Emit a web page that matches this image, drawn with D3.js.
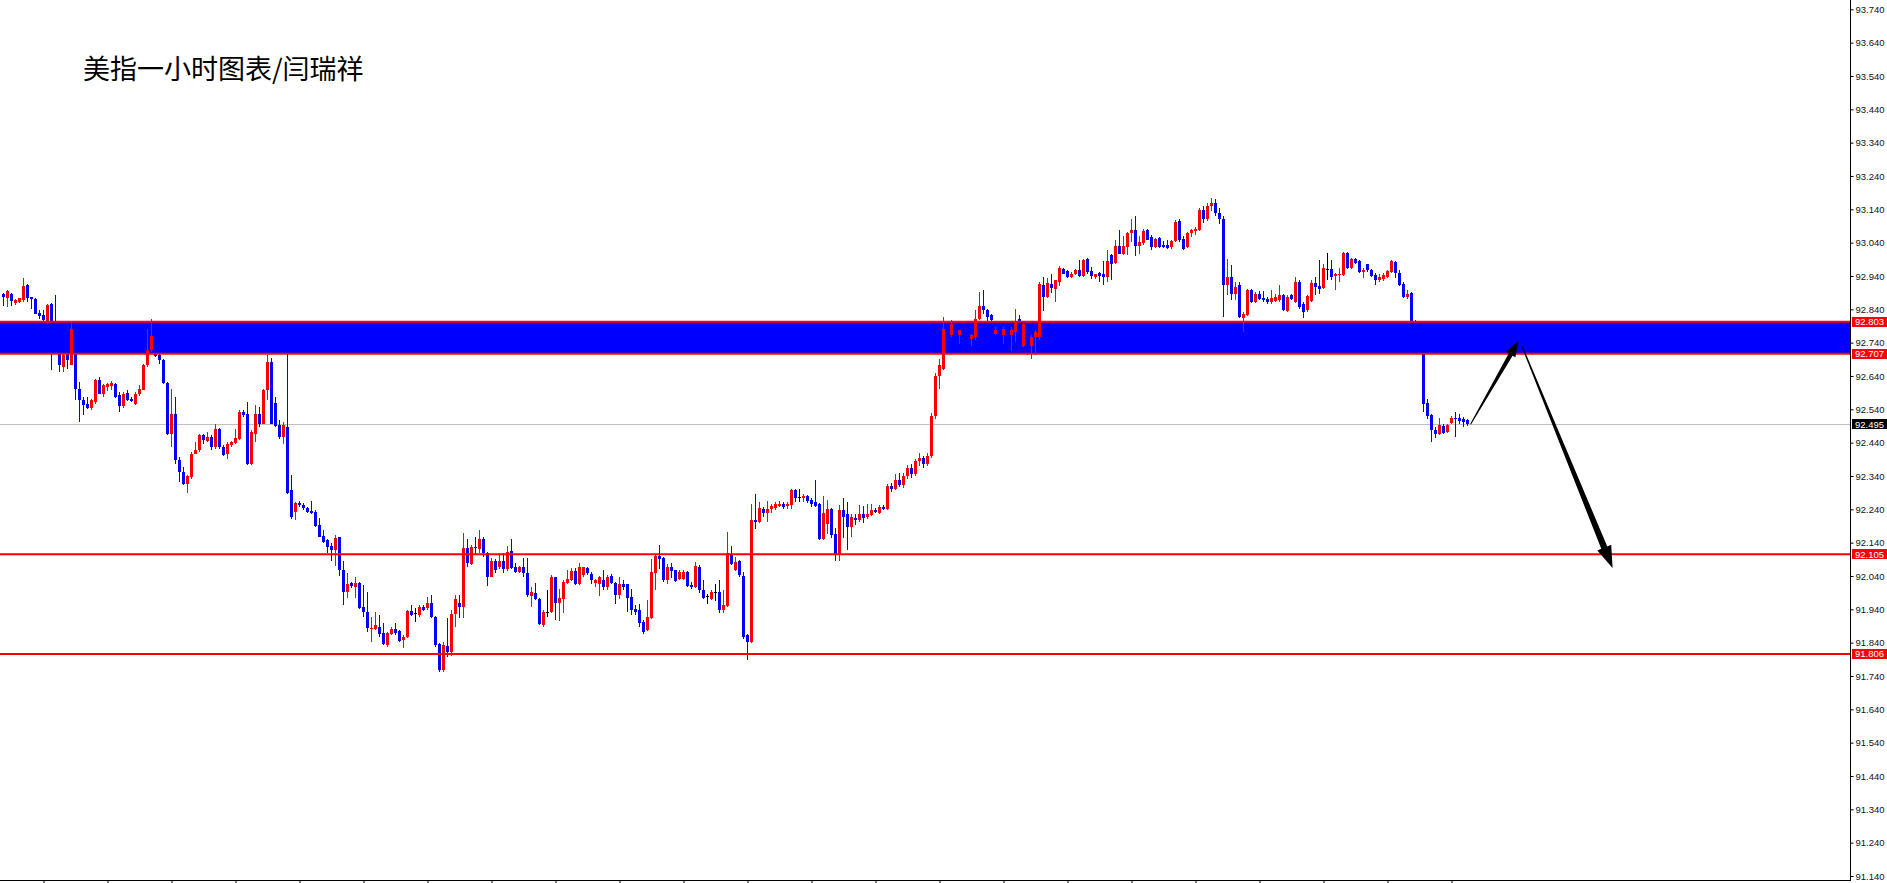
<!DOCTYPE html>
<html><head><meta charset="utf-8">
<script src="https://cdn.jsdelivr.net/npm/d3@7"></script>
<style>
html,body{margin:0;padding:0;background:#fff;overflow:hidden}
svg{display:block}
</style></head><body>
<svg id="chart" width="1887" height="883"></svg>
<script>
const title = "美指一小时图表/闫瑞祥";

const openP = [
92.887,92.875,92.887,92.859,92.863,92.869,92.912,92.877,92.872,92.829,
92.824,92.802,92.857,92.787,92.707,92.667,92.707,92.672,92.757,92.602,
92.567,92.557,92.545,92.562,92.627,92.587,92.607,92.611,92.617,92.582,
92.549,92.589,92.572,92.557,92.585,92.599,92.672,92.717,92.705,92.704,
92.687,92.619,92.467,92.527,92.389,92.352,92.317,92.337,92.407,92.417,
92.462,92.445,92.457,92.427,92.482,92.427,92.407,92.432,92.439,92.452,
92.532,92.527,92.377,92.467,92.527,92.497,92.597,92.682,92.560,92.492,
92.457,92.487,92.297,92.233,92.260,92.253,92.245,92.236,92.233,92.193,
92.160,92.148,92.130,92.118,92.156,92.058,91.993,92.018,92.008,92.020,
91.948,91.933,91.881,91.880,91.888,91.868,91.833,91.866,91.880,91.876,
91.848,91.856,91.936,91.928,91.923,91.948,91.943,91.958,91.918,91.836,
91.758,91.830,91.813,91.926,91.960,91.946,92.123,92.076,92.128,92.120,
92.150,92.110,92.038,92.086,92.068,92.086,92.060,92.116,92.066,92.053,
92.068,92.048,91.980,91.988,91.970,91.893,91.933,91.933,92.036,91.958,
91.970,92.018,92.028,92.056,92.016,92.043,92.063,92.045,92.019,92.017,
92.027,92.007,92.039,92.019,91.982,92.017,92.015,91.977,91.942,91.939,
91.902,91.877,91.915,92.049,92.099,92.094,92.027,92.067,92.057,92.032,
92.032,92.052,92.014,92.007,92.067,91.997,91.979,91.972,91.992,91.992,
91.939,91.949,92.107,92.057,92.085,92.039,91.862,91.842,92.209,92.202,
92.242,92.229,92.242,92.245,92.249,92.257,92.249,92.252,92.299,92.277,
92.275,92.279,92.269,92.262,92.257,92.152,92.197,92.242,92.165,92.102,
92.239,92.225,92.187,92.215,92.207,92.225,92.217,92.222,92.239,92.229,
92.247,92.242,92.309,92.302,92.327,92.312,92.340,92.365,92.345,92.385,
92.395,92.375,92.400,92.520,92.640,92.662,92.782,92.762,92.795,92.762,
92.777,92.755,92.752,92.757,92.812,92.849,92.839,92.822,92.767,92.790,
92.762,92.782,92.762,92.772,92.812,92.729,92.760,92.729,92.757,92.757,
92.912,92.877,92.915,92.902,92.922,92.962,92.955,92.937,92.945,92.957,
92.939,92.992,92.955,92.937,92.949,92.947,92.937,93.002,92.979,93.029,
93.005,93.027,93.069,93.077,93.029,93.039,93.079,93.057,93.027,93.055,
93.032,93.032,93.027,93.045,93.105,93.052,93.027,93.069,93.075,93.077,
93.137,93.112,93.150,93.160,93.130,93.110,92.912,92.937,92.885,92.912,
92.815,92.822,92.899,92.862,92.887,92.874,92.872,92.862,92.865,92.867,
92.882,92.835,92.882,92.862,92.922,92.857,92.837,92.865,92.919,92.909,
92.905,92.962,92.962,92.939,92.942,92.942,93.009,92.965,92.992,92.985,
92.952,92.975,92.959,92.942,92.927,92.932,92.937,92.952,92.982,92.949,
92.915,92.877,92.889,92.805,92.797,92.707,92.559,92.522,92.479,92.465,
92.489,92.472,92.499,92.515,92.515,92.512,92.507];

const highP = [
92.889,92.897,92.889,92.871,92.875,92.935,92.915,92.877,92.875,92.839,
92.837,92.857,92.860,92.882,92.727,92.707,92.712,92.805,92.767,92.622,
92.577,92.577,92.572,92.632,92.637,92.617,92.619,92.624,92.619,92.592,
92.592,92.597,92.577,92.592,92.612,92.677,92.782,92.812,92.707,92.707,
92.692,92.622,92.602,92.577,92.397,92.367,92.342,92.412,92.442,92.467,
92.467,92.472,92.462,92.495,92.485,92.432,92.442,92.445,92.482,92.539,
92.537,92.562,92.477,92.552,92.547,92.602,92.702,92.695,92.577,92.507,
92.502,92.707,92.342,92.263,92.266,92.258,92.248,92.265,92.238,92.213,
92.178,92.150,92.140,92.163,92.158,92.086,92.050,92.023,92.038,92.023,
92.013,91.993,91.918,91.933,91.923,91.898,91.873,91.888,91.898,91.878,
91.863,91.938,91.953,91.943,91.953,91.953,91.978,91.983,91.920,91.840,
91.843,91.913,91.938,91.983,91.983,92.168,92.150,92.133,92.156,92.178,
92.158,92.113,92.093,92.090,92.110,92.110,92.130,92.150,92.078,92.070,
92.093,92.093,92.008,92.020,91.973,91.938,91.998,92.043,92.038,92.000,
92.028,92.058,92.063,92.063,92.080,92.068,92.066,92.052,92.032,92.039,
92.059,92.042,92.047,92.022,92.037,92.027,92.017,92.002,91.952,91.957,
91.907,91.967,92.092,92.107,92.132,92.097,92.075,92.079,92.059,92.059,
92.057,92.055,92.022,92.082,92.072,92.027,91.987,91.999,92.017,92.027,
91.997,92.172,92.129,92.097,92.089,92.052,91.867,92.257,92.285,92.262,
92.247,92.265,92.257,92.262,92.265,92.262,92.262,92.302,92.302,92.302,
92.285,92.282,92.275,92.327,92.259,92.279,92.269,92.245,92.185,92.252,
92.275,92.262,92.225,92.225,92.252,92.249,92.257,92.257,92.245,92.252,
92.252,92.315,92.319,92.347,92.349,92.350,92.372,92.375,92.392,92.410,
92.400,92.410,92.530,92.650,92.690,92.817,92.800,92.809,92.800,92.779,
92.782,92.762,92.767,92.837,92.892,92.897,92.842,92.827,92.787,92.800,
92.787,92.790,92.787,92.842,92.822,92.800,92.770,92.762,92.777,92.922,
92.937,92.935,92.945,92.929,92.969,92.965,92.957,92.952,92.962,92.987,
92.992,92.995,92.967,92.947,92.952,92.985,93.017,93.005,93.047,93.079,
93.059,93.072,93.112,93.119,93.059,93.082,93.082,93.062,93.055,93.057,
93.045,93.047,93.047,93.107,93.112,93.059,93.072,93.082,93.087,93.145,
93.150,93.160,93.175,93.170,93.145,93.120,92.992,92.972,92.922,92.922,
92.832,92.902,92.902,92.892,92.895,92.895,92.877,92.897,92.887,92.912,
92.885,92.882,92.887,92.937,92.927,92.862,92.882,92.927,92.937,92.989,
92.977,93.009,92.989,92.949,92.965,93.012,93.012,92.995,92.995,92.987,
92.965,92.977,92.962,92.949,92.947,92.949,92.959,92.987,92.985,92.959,
92.922,92.899,92.892,92.807,92.800,92.712,92.572,92.527,92.487,92.515,
92.497,92.497,92.519,92.532,92.527,92.517,92.512];

const lowP = [
92.849,92.847,92.849,92.853,92.860,92.862,92.862,92.842,92.825,92.812,
92.797,92.797,92.657,92.717,92.652,92.652,92.662,92.672,92.567,92.502,
92.522,92.542,92.537,92.557,92.585,92.577,92.595,92.599,92.575,92.532,
92.545,92.565,92.562,92.552,92.579,92.597,92.667,92.712,92.697,92.677,
92.615,92.462,92.427,92.377,92.322,92.312,92.289,92.332,92.405,92.412,
92.437,92.442,92.417,92.422,92.422,92.399,92.392,92.427,92.437,92.447,
92.517,92.372,92.372,92.442,92.487,92.495,92.567,92.495,92.487,92.452,
92.437,92.287,92.210,92.208,92.248,92.238,92.228,92.226,92.188,92.156,
92.138,92.108,92.086,92.070,92.040,91.953,91.973,92.003,91.973,91.940,
91.918,91.873,91.843,91.878,91.858,91.833,91.828,91.863,91.863,91.843,
91.823,91.853,91.920,91.903,91.918,91.936,91.938,91.913,91.828,91.753,
91.753,91.798,91.800,91.888,91.913,91.913,92.068,92.073,92.106,92.108,
92.096,92.010,92.036,92.048,92.060,92.048,92.056,92.060,92.048,92.050,
92.038,91.978,91.946,91.968,91.893,91.886,91.918,91.930,91.908,91.906,
91.928,92.016,92.026,92.013,92.013,92.038,92.043,92.017,92.007,91.979,
91.997,91.997,92.015,91.957,91.972,91.997,91.932,91.922,91.922,91.887,
91.867,91.875,91.912,91.997,92.062,92.022,92.017,92.035,92.022,92.027,
92.029,92.007,92.002,92.004,91.989,91.972,91.957,91.967,91.965,91.929,
91.929,91.947,92.072,92.055,92.037,91.852,91.789,91.839,92.182,92.199,
92.217,92.202,92.229,92.239,92.247,92.242,92.242,92.242,92.262,92.262,
92.262,92.259,92.247,92.247,92.149,92.149,92.167,92.155,92.085,92.085,
92.155,92.119,92.157,92.192,92.202,92.199,92.212,92.219,92.229,92.227,
92.237,92.237,92.292,92.299,92.307,92.305,92.330,92.335,92.340,92.370,
92.365,92.370,92.395,92.510,92.600,92.657,92.752,92.757,92.765,92.737,
92.745,92.735,92.729,92.747,92.809,92.827,92.799,92.799,92.762,92.765,
92.737,92.750,92.715,92.742,92.790,92.727,92.702,92.692,92.702,92.747,
92.835,92.875,92.889,92.862,92.909,92.945,92.935,92.935,92.942,92.937,
92.937,92.947,92.932,92.932,92.922,92.912,92.922,92.927,92.977,93.005,
93.002,93.002,93.042,92.999,93.005,93.032,93.047,93.019,93.025,93.025,
93.025,93.022,93.022,93.042,93.042,93.019,93.025,93.057,93.062,93.075,
93.100,93.105,93.135,93.120,93.095,92.817,92.882,92.869,92.869,92.815,
92.772,92.819,92.859,92.859,92.867,92.862,92.855,92.855,92.862,92.862,
92.835,92.832,92.867,92.859,92.842,92.815,92.832,92.862,92.882,92.885,
92.902,92.927,92.927,92.897,92.922,92.939,92.962,92.962,92.977,92.949,
92.935,92.952,92.937,92.912,92.922,92.925,92.935,92.949,92.935,92.909,
92.875,92.872,92.797,92.790,92.705,92.532,92.512,92.442,92.455,92.462,
92.467,92.469,92.497,92.457,92.497,92.487,92.489];

const closeP = [
92.877,92.895,92.865,92.867,92.873,92.909,92.875,92.872,92.827,92.819,
92.807,92.854,92.757,92.727,92.672,92.702,92.687,92.782,92.602,92.567,
92.552,92.545,92.567,92.627,92.587,92.612,92.615,92.619,92.577,92.549,
92.587,92.567,92.565,92.585,92.602,92.672,92.717,92.759,92.699,92.687,
92.619,92.467,92.527,92.387,92.352,92.317,92.339,92.407,92.417,92.462,
92.447,92.457,92.427,92.482,92.427,92.402,92.437,92.442,92.454,92.532,
92.522,92.377,92.472,92.527,92.497,92.597,92.682,92.497,92.490,92.457,
92.492,92.290,92.218,92.258,92.253,92.243,92.233,92.230,92.190,92.158,
92.143,92.128,92.118,92.153,92.058,91.993,92.016,92.010,92.018,91.943,
91.933,91.883,91.885,91.893,91.866,91.835,91.870,91.880,91.868,91.846,
91.858,91.936,91.923,91.928,91.948,91.938,91.960,91.916,91.833,91.758,
91.833,91.813,91.926,91.970,91.946,92.123,92.078,92.128,92.123,92.150,
92.108,92.036,92.086,92.058,92.086,92.060,92.113,92.063,92.053,92.068,
92.048,91.983,91.993,91.970,91.896,91.933,91.933,92.036,91.958,91.973,
92.023,92.030,92.056,92.016,92.066,92.066,92.048,92.027,92.027,92.037,
92.007,92.037,92.019,91.982,92.017,92.007,91.975,91.937,91.932,91.899,
91.872,91.917,92.052,92.099,92.092,92.027,92.067,92.055,92.025,92.052,
92.052,92.009,92.007,92.069,91.997,91.975,91.979,91.992,91.992,91.937,
91.952,92.109,92.077,92.082,92.042,91.857,91.842,92.209,92.202,92.245,
92.229,92.242,92.249,92.255,92.257,92.247,92.257,92.299,92.275,92.277,
92.279,92.265,92.255,92.249,92.152,92.229,92.242,92.162,92.102,92.239,
92.217,92.187,92.217,92.207,92.225,92.215,92.225,92.239,92.232,92.247,
92.242,92.309,92.302,92.329,92.312,92.340,92.365,92.345,92.385,92.395,
92.375,92.400,92.520,92.640,92.672,92.782,92.760,92.795,92.770,92.777,
92.755,92.745,92.762,92.812,92.849,92.839,92.817,92.807,92.779,92.770,
92.782,92.760,92.777,92.802,92.797,92.795,92.720,92.757,92.772,92.917,
92.877,92.919,92.905,92.927,92.965,92.947,92.937,92.947,92.959,92.939,
92.989,92.952,92.939,92.945,92.939,92.937,92.985,92.977,93.029,93.005,
93.029,93.069,93.077,93.029,93.042,93.075,93.049,93.027,93.052,93.027,
93.027,93.025,93.045,93.102,93.047,93.022,93.069,93.077,93.082,93.137,
93.112,93.150,93.160,93.130,93.110,92.912,92.937,92.887,92.907,92.817,
92.825,92.899,92.862,92.887,92.872,92.867,92.862,92.874,92.877,92.882,
92.837,92.877,92.872,92.922,92.847,92.832,92.879,92.919,92.907,92.902,
92.965,92.962,92.937,92.945,92.947,93.009,92.965,92.992,92.979,92.952,
92.959,92.957,92.939,92.927,92.937,92.942,92.955,92.985,92.949,92.912,
92.877,92.887,92.805,92.797,92.710,92.555,92.519,92.477,92.465,92.492,
92.469,92.492,92.515,92.512,92.505,92.502,92.495];

const priceTicks = [93.74,93.64,93.54,93.44,93.34,93.24,93.14,93.04,92.94,92.84,92.74,92.64,92.54,
  92.44,92.34,92.24,92.14,92.04,91.94,91.84,91.74,91.64,91.54,91.44,91.34,91.24,91.14];
const timeTickBars = [10,26,42,58,74,90,106,122,138,154,170,186,202,218,234,250,266,282,298,314,330,346,362];
const zoneLevels = [92.707, 92.803];
const lineLevels = [92.105, 91.806];
const bidPrice = 92.495;
// arrow annotations: [bar, price] start -> end
const arrowFrom = [[366.9, 92.495], [379.8, 92.728]];
const arrowTo   = [[378.9, 92.746], [402.4, 92.064]];

const W = 1887, H = 883;
const plotRight = 1850, plotBottom = 880;
const svg = d3.select("#chart");
svg.append("rect").attr("width", W).attr("height", H).attr("fill", "#fff");

const n = Math.min(openP.length, highP.length, lowP.length, closeP.length);
const x = d3.scaleLinear().domain([0, 366]).range([3, 1467]);
const y = d3.scaleLinear().domain([91.14, 93.74]).range([876, 9.3]);

const RED = "#ff0000", BLUE = "#0000ff";

// zone
svg.append("rect")
  .attr("x", 0).attr("width", plotRight)
  .attr("y", y(zoneLevels[1])).attr("height", y(zoneLevels[0]) - y(zoneLevels[1]))
  .attr("fill", BLUE);

// bid line
svg.append("line").attr("x1", 0).attr("x2", plotRight)
  .attr("y1", Math.round(y(bidPrice)) + 0.5).attr("y2", Math.round(y(bidPrice)) + 0.5)
  .attr("stroke", "#c0c0c0").attr("stroke-width", 1);

// candles
const candles = d3.range(n).map(i => ({i, o: openP[i], h: highP[i], l: lowP[i], c: closeP[i]}));
const g = svg.append("g").attr("shape-rendering", "crispEdges");
const col = d => d.c > d.o ? RED : (d.c < d.o ? BLUE : "#000");
g.selectAll("rect.wick").data(candles).join("rect").attr("class", "wick")
  .attr("x", d => Math.round(x(d.i)))
  .attr("width", 1)
  .attr("y", d => Math.round(y(d.h)))
  .attr("height", d => Math.max(1, Math.round(y(d.l)) - Math.round(y(d.h))))
  .attr("fill", col);
g.selectAll("rect.body").data(candles).join("rect").attr("class", "body")
  .attr("x", d => Math.round(x(d.i)) - 1)
  .attr("width", 3)
  .attr("y", d => Math.round(y(Math.max(d.o, d.c))))
  .attr("height", d => Math.max(1, Math.round(y(Math.min(d.o, d.c))) - Math.round(y(Math.max(d.o, d.c)))))
  .attr("fill", col);

// red level lines
const allLevels = zoneLevels.concat(lineLevels);
svg.append("g").selectAll("line").data(allLevels).join("line")
  .attr("x1", 0).attr("x2", plotRight)
  .attr("y1", d => y(d)).attr("y2", d => y(d))
  .attr("stroke", RED).attr("stroke-width", 2);

// frame
svg.append("line").attr("x1", plotRight + 0.5).attr("x2", plotRight + 0.5).attr("y1", 0).attr("y2", plotBottom + 1)
  .attr("stroke", "#000").attr("stroke-width", 1);
svg.append("line").attr("x1", 0).attr("x2", plotRight + 1).attr("y1", plotBottom + 0.5).attr("y2", plotBottom + 0.5)
  .attr("stroke", "#000").attr("stroke-width", 1);

// y axis
const yAxis = d3.axisRight(y).tickValues(priceTicks).tickSize(3).tickPadding(2).tickFormat(d3.format(".3f"));
const ya = svg.append("g").attr("transform", `translate(${plotRight + 0.5},0)`).call(yAxis);
ya.select(".domain").remove();
ya.selectAll("text").attr("font-family", "'Liberation Sans', Arial, sans-serif").attr("font-size", "9.5px").attr("fill", "#111");
ya.selectAll("line").attr("stroke", "#000");

// x axis ticks
const xAxis = d3.axisBottom(x).tickValues(timeTickBars).tickSize(4).tickFormat(() => "");
const xa = svg.append("g").attr("transform", `translate(0.5,${plotBottom + 0.5})`).call(xAxis);
xa.select(".domain").remove();
xa.selectAll("line").attr("stroke", "#000");

// price labels
const labels = allLevels.map(v => ({v, bg: RED})).concat([{v: bidPrice, bg: "#000"}]);
const lg = svg.append("g");
labels.forEach(L => {
  const yy = y(L.v);
  lg.append("rect").attr("x", plotRight + 2).attr("y", Math.round(yy) - 5).attr("width", W - plotRight - 2).attr("height", 10).attr("fill", L.bg);
  lg.append("text").attr("x", plotRight + 5).attr("y", yy).attr("dy", "0.34em")
    .attr("font-family", "'Liberation Sans', Arial, sans-serif").attr("font-size", "9.5px").attr("fill", "#fff")
    .text(d3.format(".3f")(L.v));
});

// arrows
const ag = svg.append("g");
const arrowStyle = [{w0: 1, w1: 4.5, hw: 11, hl: 16}, {w0: 1.2, w1: 6.5, hw: 15, hl: 22}];
arrowFrom.forEach((f, k) => {
  const t = arrowTo[k], s = arrowStyle[k];
  const x0 = x(f[0]), y0 = y(f[1]), x1 = x(t[0]), y1 = y(t[1]);
  const len = Math.hypot(x1 - x0, y1 - y0);
  const dx = (x1 - x0) / len, dy = (y1 - y0) / len;
  const nx = -dy, ny = dx;
  const bx = x1 - dx * s.hl, by = y1 - dy * s.hl;
  const pts = [
    [x0 + nx * s.w0 / 2, y0 + ny * s.w0 / 2],
    [bx + nx * s.w1 / 2, by + ny * s.w1 / 2],
    [bx + nx * s.hw / 2, by + ny * s.hw / 2],
    [x1, y1],
    [bx - nx * s.hw / 2, by - ny * s.hw / 2],
    [bx - nx * s.w1 / 2, by - ny * s.w1 / 2],
    [x0 - nx * s.w0 / 2, y0 - ny * s.w0 / 2]
  ];
  ag.append("path").attr("d", d3.line()(pts) + "Z").attr("fill", "#000");
});

// title
svg.append("text").attr("x", 83).attr("y", 79)
  .attr("font-family", "'Noto Sans CJK SC', sans-serif").attr("font-size", "27px").attr("fill", "#000")
  .text(title);
</script>
</body></html>
